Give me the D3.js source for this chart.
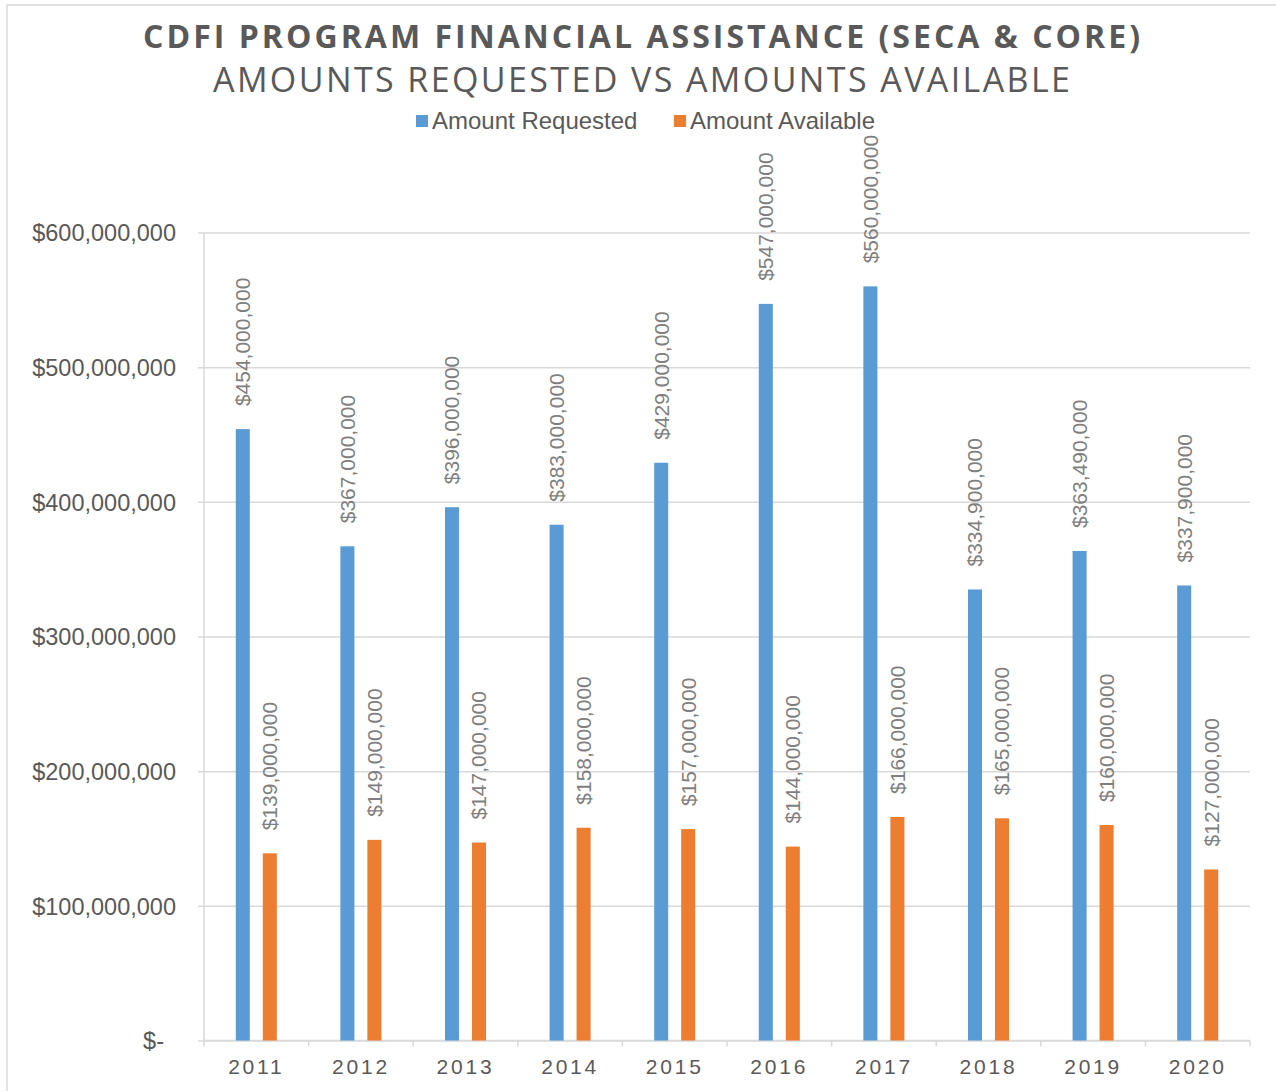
<!DOCTYPE html>
<html>
<head>
<meta charset="utf-8">
<script src="https://cdn.jsdelivr.net/npm/d3@7"></script>
<style>
  body { margin: 0; background: #fff; }
  svg { display: block; }
  .title { font-family: "Open Sans", sans-serif; fill: #595959; }
  .lbl { font-family: "Liberation Sans", Arial, sans-serif; }
</style>
</head>
<body>
<svg id="chart" width="1276" height="1091"></svg>
<script>
// chart values (dollars)
const years = ['2011', '2012', '2013', '2014', '2015', '2016', '2017', '2018', '2019', '2020']
const requested = [454000000, 367000000, 396000000, 383000000, 429000000, 547000000, 560000000, 334900000, 363490000, 337900000]
const available = [139000000, 149000000, 147000000, 158000000, 157000000, 144000000, 166000000, 165000000, 160000000, 127000000]
const seriesNames = ['Amount Requested', 'Amount Available']
const yTicks = [0, 100000000, 200000000, 300000000, 400000000, 500000000, 600000000]

const colors = ['#5b9bd5', '#ed7d31']
const gridColor = '#d9d9d9'
const textColor = '#595959'

const margin = { top: 232.5, right: 26, bottom: 50.5, left: 204 }
const W = 1276, H = 1091

const svg = d3.select('#chart')

// outer chart border (only left and top fall inside the picture)
svg.append('path')
  .attr('d', 'M7,1100 V5 H1290')
  .attr('fill', 'none')
  .attr('stroke', gridColor)
  .attr('stroke-width', 1.5)

const rows = years.map((y, i) => ({ year: y, values: [requested[i], available[i]] }))

const x = d3.scaleBand()
  .domain(years)
  .range([margin.left, W - margin.right])
  .padding(0)

const xs = d3.scaleBand()
  .domain([0, 1])
  .range([0, x.bandwidth()])
  .paddingInner(0.48)
  .paddingOuter(1.177)

const y = d3.scaleLinear()
  .domain([0, 600000000])
  .range([H - margin.bottom, margin.top])

const money = d3.format('$,')

// gridlines + y labels
const yAxis = d3.axisLeft(y)
  .tickValues(yTicks)
  .tickSize(-(W - margin.right - margin.left) - 6)
  .tickPadding(22)
  .tickFormat(d => d === 0 ? '$-' : money(d))

const gy = svg.append('g')
  .attr('transform', 'translate(' + (margin.left - 6) + ',0)')
  .call(yAxis)
  .call(g => g.select('.domain').remove())

gy.selectAll('.tick line')
  .attr('x1', 0)
  .attr('x2', W - margin.right - margin.left + 6)
  .attr('stroke', gridColor)
  .attr('stroke-width', 1.5)

gy.selectAll('.tick text')
  .attr('class', 'lbl')
  .attr('fill', textColor)
  .attr('font-size', '23.5px')
  .attr('x', d => d === 0 ? -34 : -22)   // accounting-style "$-" sits further left
  .attr('dy', '0.35em')

// vertical axis line
svg.append('line')
  .attr('x1', margin.left).attr('x2', margin.left)
  .attr('y1', y(600000000)).attr('y2', y(0))
  .attr('stroke', gridColor)
  .attr('stroke-width', 1.5)

// x axis
const xAxis = d3.axisBottom(x).tickSize(0).tickPadding(19)
const gx = svg.append('g')
  .attr('transform', 'translate(0,' + y(0) + ')')
  .call(xAxis)
gx.select('.domain').remove()
gx.selectAll('.tick text')
  .attr('class', 'lbl')
  .attr('fill', textColor)
  .attr('font-size', '21px')
  .attr('letter-spacing', '2.8px')

// x axis baseline and category separators
svg.append('line')
  .attr('x1', margin.left).attr('x2', W - margin.right)
  .attr('y1', y(0)).attr('y2', y(0))
  .attr('stroke', gridColor)
  .attr('stroke-width', 1.5)

const bounds = years.map(d => x(d)).concat([x(years[years.length - 1]) + x.bandwidth()])
svg.append('g').selectAll('line')
  .data(bounds)
  .join('line')
  .attr('x1', d => d).attr('x2', d => d)
  .attr('y1', y(0)).attr('y2', y(0) + 6)
  .attr('stroke', gridColor)
  .attr('stroke-width', 1.5)

// bars
const grp = svg.append('g').selectAll('g')
  .data(rows)
  .join('g')
  .attr('transform', d => 'translate(' + x(d.year) + ',0)')

grp.selectAll('rect')
  .data(d => d.values)
  .join('rect')
  .attr('x', (d, i) => xs(i))
  .attr('width', xs.bandwidth())
  .attr('y', d => y(d))
  .attr('height', d => y(0) - y(d))
  .attr('fill', (d, i) => colors[i])

// data labels, rotated, above each bar
grp.selectAll('text')
  .data(d => d.values)
  .join('text')
  .attr('class', 'lbl')
  .attr('transform', (d, i) => 'translate(' + (xs(i) + xs.bandwidth() / 2) + ',' + (y(d) - 23) + ') rotate(-90)')
  .attr('dy', '0.35em')
  .attr('fill', '#7f7f7f')
  .attr('font-size', '21px')
  .text(d => money(d))

// titles
svg.append('text')
  .attr('class', 'title')
  .attr('x', 143).attr('y', 48)
  .attr('font-size', '32px')
  .attr('font-weight', 700)
  .attr('textLength', 997)
  .attr('lengthAdjust', 'spacing')
  .text('CDFI PROGRAM FINANCIAL ASSISTANCE (SECA & CORE)')

svg.append('text')
  .attr('class', 'title')
  .attr('x', 213).attr('y', 92)
  .attr('font-size', '34px')
  .attr('textLength', 857)
  .attr('lengthAdjust', 'spacing')
  .text('AMOUNTS REQUESTED VS AMOUNTS AVAILABLE')

// legend
const legendX = [416, 674]
const leg = svg.append('g').selectAll('g')
  .data(seriesNames)
  .join('g')
  .attr('transform', (d, i) => 'translate(' + legendX[i] + ',121)')

leg.append('rect')
  .attr('x', 0).attr('y', -6)
  .attr('width', 12).attr('height', 12)
  .attr('fill', (d, i) => colors[i])

leg.append('text')
  .attr('class', 'lbl')
  .attr('x', 16)
  .attr('dy', '0.35em')
  .attr('font-size', '24px')
  .attr('fill', textColor)
  .text(d => d)
</script>
</body>
</html>
